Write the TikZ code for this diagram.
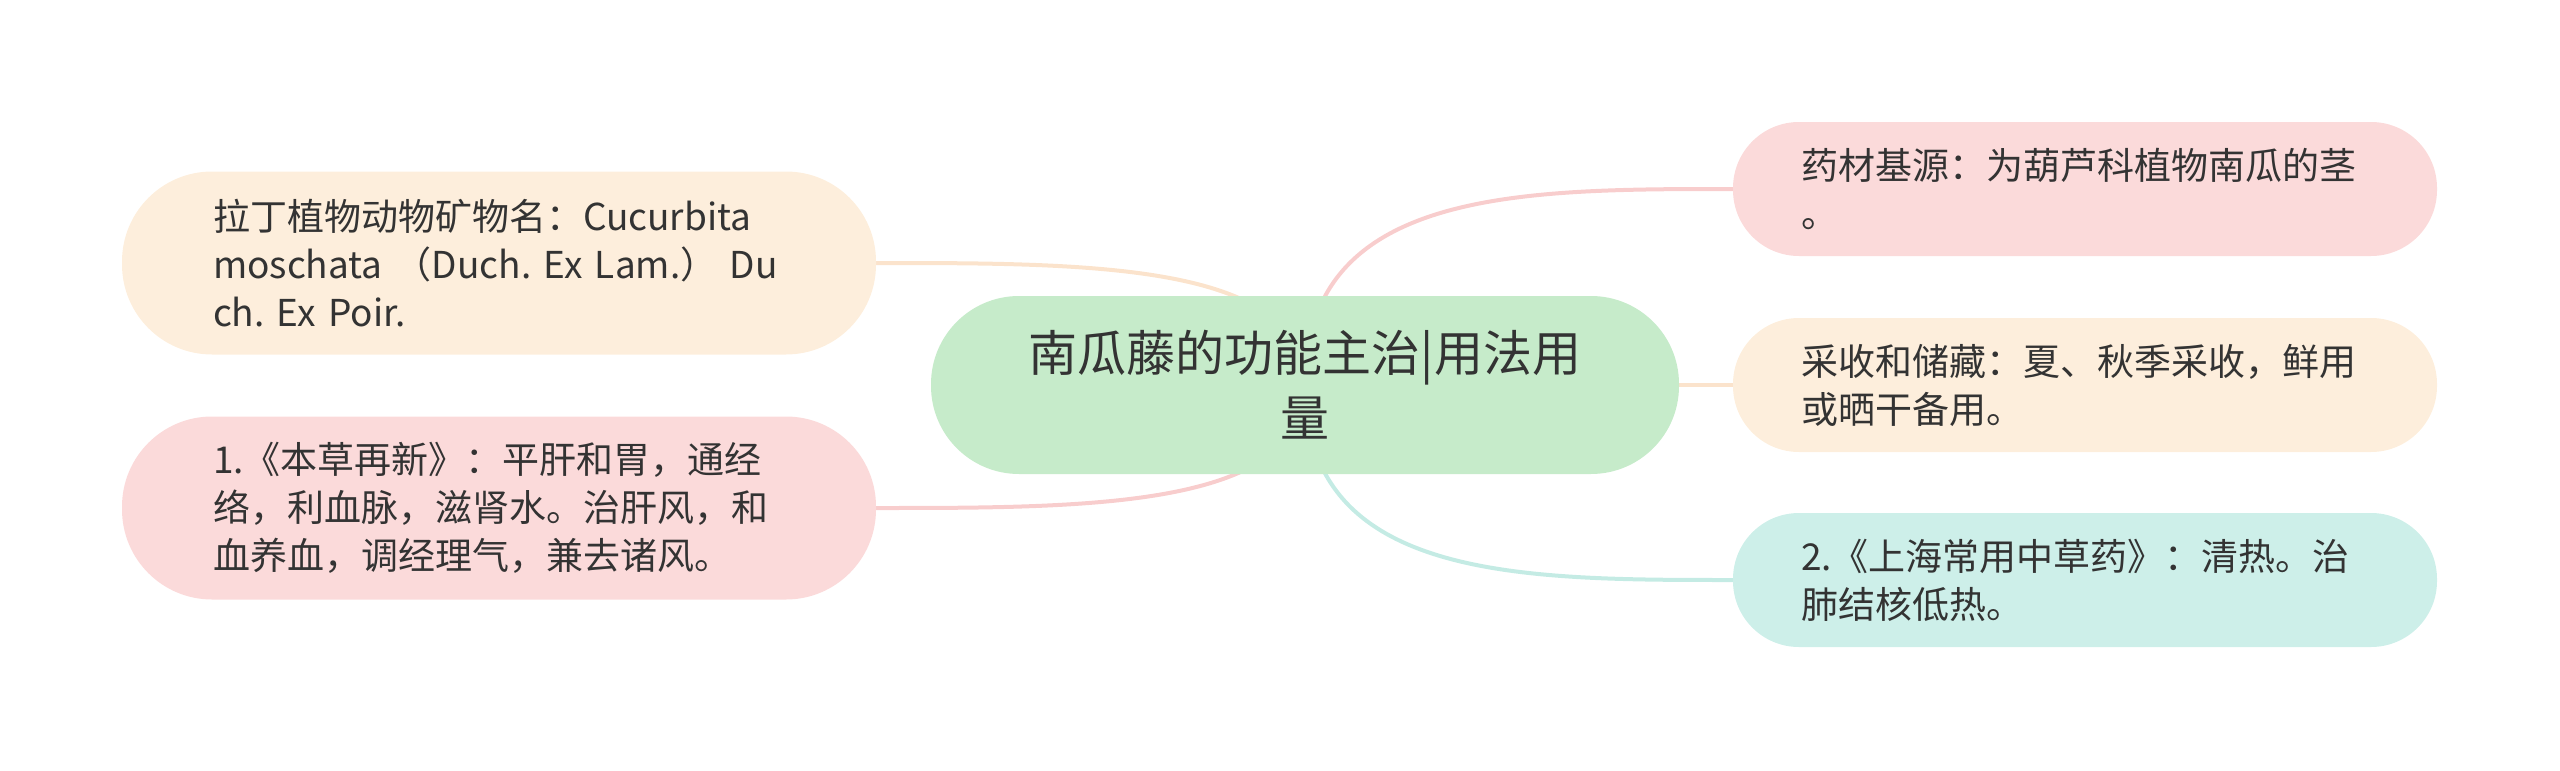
\documentclass[tikz,border=0pt]{standalone}
\usepackage{fontspec}
\setmainfont{Noto Sans CJK SC}
\frenchspacing
\usetikzlibrary{calc,backgrounds}
\definecolor{cgreen}{HTML}{C6EBCA}
\definecolor{cpeach}{HTML}{FDEEDC}
\definecolor{cpink}{HTML}{FBDADA}
\definecolor{cteal}{HTML}{CDEFE9}
\definecolor{lpeach}{HTML}{FBE3CC}
\definecolor{lpink}{HTML}{F8CDCD}
\definecolor{lteal}{HTML}{C4EBE4}
\definecolor{txt}{HTML}{333333}
\tikzset{
  leafL/.style={draw=none, rounded corners=90pt, minimum height=183pt, text width=572pt,
    inner xsep=91pt, inner ysep=0pt, align=left, text=txt,
    font=\fontsize{37}{48}\selectfont},
  leafR/.style={draw=none, rounded corners=66pt, minimum height=134pt, text width=568pt,
    inner xsep=68pt, inner ysep=0pt, align=left, text=txt,
    font=\fontsize{37}{48}\selectfont},
  rootbox/.style={draw=none, fill=cgreen, rounded corners=88pt, minimum height=178pt,
    text width=570pt, inner xsep=89pt, inner ysep=0pt, align=center, text=txt,
    font=\fontsize{49}{65}\selectfont},
  link/.style={line width=4pt, line cap=round}
}
\begin{document}
\begin{tikzpicture}[x=1pt,y=-1pt]
\useasboundingbox (0,0) rectangle (2560,771);
\node[rootbox] (c) at (1305,385) {南瓜藤的功能主治|用法用\\量};
\node[leafL, fill=cpeach] (lt) at (499,263) {\mbox{拉丁植物动物矿物名：Cucurbita}\\\mbox{moschata （Duch. Ex Lam.） Du}\\\mbox{ch. Ex Poir.}};
\node[leafL, fill=cpink] (lb) at (499,508) {\mbox{1.《本草再新》：平肝和胃，通经}\\\mbox{络，利血脉，滋肾水。治肝风，和}\\\mbox{血养血，调经理气，兼去诸风。}};
\node[leafR, fill=cpink] (rt) at (2085,189) {\mbox{药材基源：为葫芦科植物南瓜的茎}\\。};
\node[leafR, fill=cpeach] (rm) at (2085,385) {\mbox{采收和储藏：夏、秋季采收，鲜用}\\\mbox{或晒干备用。}};
\node[leafR, fill=cteal] (rb) at (2085,580) {\mbox{2.《上海常用中草药》：清热。治}\\\mbox{肺结核低热。}};
\begin{scope}[on background layer]
  \coordinate (m1) at ($(c.center)!0.5!(lt.east)$);
  \coordinate (m2) at ($(c.center)!0.5!(lb.east)$);
  \coordinate (m3) at ($(c.center)!0.5!(rt.west)$);
  \coordinate (m4) at ($(c.center)!0.5!(rb.west)$);
  \draw[link, lpeach] (c.center) .. controls (c.center |- lt.east) and (m1 |- lt.east) .. (lt.east);
  \draw[link, lpink] (c.center) .. controls (c.center |- lb.east) and (m2 |- lb.east) .. (lb.east);
  \draw[link, lpink] (c.center) .. controls (c.center |- rt.west) and (m3 |- rt.west) .. (rt.west);
  \draw[link, lpeach] (c.center) -- (rm.west);
  \draw[link, lteal] (c.center) .. controls (c.center |- rb.west) and (m4 |- rb.west) .. (rb.west);
\end{scope}
\end{tikzpicture}
\end{document}
